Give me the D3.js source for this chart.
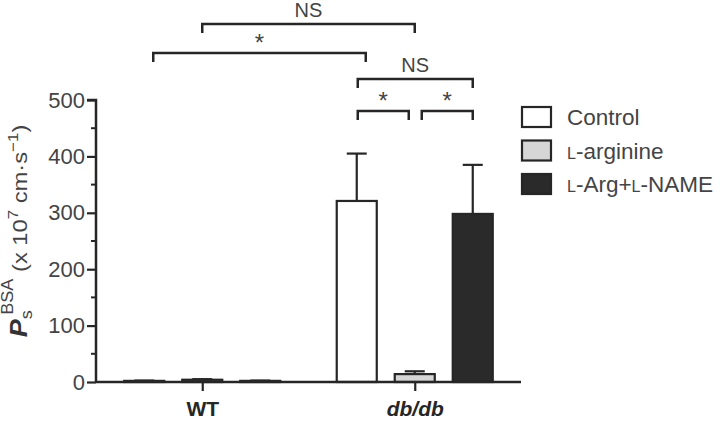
<!DOCTYPE html>
<html><head><meta charset="utf-8">
<script src="https://cdn.jsdelivr.net/npm/d3@7"></script>
<style>body{margin:0;background:#fff}svg{display:block;font-family:Arial,"Liberation Sans",Helvetica,sans-serif}</style>
</head><body>
<script>
const groups = ["WT", "db/db"];
const series = ["Control", "L-arginine", "L-Arg+L-NAME"];
const wtValues = [2, 4, 2];
const wtErrors = [0.5, 1, 0.5];
const dbValues = [321, 14, 298];
const dbErrors = [84, 5, 87];
const yTicks = [0, 100, 200, 300, 400, 500];
const yMinorTicks = [50, 150, 250, 350, 450];
const brackets = [
  {from:[0,1], to:[1,1], label:"NS", level:0, dx1:0, dx2:0},
  {from:[0,0], to:[1,0], label:"*", level:1, dx1:9, dx2:9},
  {from:[1,0], to:[1,2], label:"NS", level:2, dx1:1, dx2:0},
  {from:[1,0], to:[1,1], label:"*", level:3, dx1:1, dx2:-6},
  {from:[1,1], to:[1,2], label:"*", level:3, dx1:7, dx2:0}
];
const bracketY = [24, 53, 79, 111];

const W = 720, H = 421;
const svg = d3.select("body").append("svg").attr("width", W).attr("height", H);
const x0 = 96, x1 = 521, yTop = 100, yBot = 382;
const xg = d3.scalePoint().domain(groups).range([x0, x1]).padding(0.5);
const xs = d3.scaleBand().domain(series).range([-87, 87]).paddingInner(0.31).paddingOuter(0.155);
const y = d3.scaleLinear().domain([0, 500]).range([yBot, yTop]);
const fills = ["#ffffff", "#d6d6d6", "#2a2a2a"];
const ink = "#262626";

const data = [];
groups.forEach((g, gi) => series.forEach((s, si) => {
  const v = gi === 0 ? wtValues[si] : dbValues[si];
  const e = gi === 0 ? wtErrors[si] : dbErrors[si];
  data.push({g, s, si, v, e});
}));
const cx = d => xg(d.g) + xs(d.s) + xs.bandwidth() / 2;

// error bars
svg.append("g").selectAll("g").data(data).join("g").each(function(d){
  const g = d3.select(this);
  g.append("line").attr("x1", cx(d)).attr("x2", cx(d)).attr("y1", y(d.v)).attr("y2", y(d.v + d.e)).attr("stroke", ink).attr("stroke-width", 2.2);
  g.append("line").attr("x1", cx(d) - 10).attr("x2", cx(d) + 10).attr("y1", y(d.v + d.e)).attr("y2", y(d.v + d.e)).attr("stroke", ink).attr("stroke-width", 2.2);
});
// bars
svg.append("g").selectAll("rect").data(data).join("rect")
  .attr("x", d => xg(d.g) + xs(d.s)).attr("width", xs.bandwidth())
  .attr("y", d => y(d.v)).attr("height", d => y(0) - y(d.v))
  .attr("fill", d => fills[d.si]).attr("stroke", ink).attr("stroke-width", 2.2);

// y axis
const ya = svg.append("g").attr("transform", `translate(${x0},0)`)
  .call(d3.axisLeft(y).tickValues(yTicks).tickSize(9).tickPadding(2).tickFormat(d3.format("d")));
ya.select(".domain").attr("stroke", ink).attr("stroke-width", 2.5).attr("d", `M-9,${yTop}H0V${yBot}`);
ya.selectAll(".tick line").attr("stroke", ink).attr("stroke-width", 2.2);
ya.selectAll(".tick text").attr("font-size", 22).attr("fill", "#444").attr("font-family", "Arial, 'Liberation Sans', sans-serif");
svg.append("g").selectAll("line").data(yMinorTicks).join("line")
  .attr("x1", x0 - 5).attr("x2", x0).attr("y1", d => y(d)).attr("y2", d => y(d)).attr("stroke", ink).attr("stroke-width", 2);

// x axis
const xa = svg.append("g").attr("transform", `translate(0,${yBot})`)
  .call(d3.axisBottom(xg).tickSize(9).tickPadding(10));
xa.select(".domain").attr("stroke", ink).attr("stroke-width", 2.5).attr("d", `M${x0},0H${x1}`);
xa.selectAll(".tick line").attr("stroke", ink).attr("stroke-width", 2.2);
xa.selectAll(".tick text").attr("font-size", 21).attr("font-weight", "bold").attr("fill", ink)
  .attr("font-style", d => d === "db/db" ? "italic" : "normal").attr("dy", "0.7em");

// brackets
const bx = (p, dx) => xg(groups[p[0]]) + xs(series[p[1]]) + xs.bandwidth() / 2 + dx;
const bg = svg.append("g");
brackets.forEach(b => {
  const xa1 = bx(b.from, b.dx1), xa2 = bx(b.to, b.dx2), yy = bracketY[b.level];
  bg.append("path").attr("d", `M${xa1},${yy + 9}V${yy}H${xa2}V${yy + 9}`).attr("fill", "none").attr("stroke", ink).attr("stroke-width", 2.5);
  bg.append("text").attr("x", (xa1 + xa2) / 2).attr("y", b.label === "*" ? yy - 2 : yy - 7)
    .attr("text-anchor", "middle").attr("font-size", b.label === "*" ? 24 : 20).attr("fill", "#444")
    .text(b.label);
});

// legend
const lg = svg.append("g");
const legendLabels = [
  [["", "Control"]],
  [["L", ""], ["", "-arginine"]],
  [["L", ""], ["", "-Arg+"], ["L", ""], ["", "-NAME"]]
];
series.forEach((s, i) => {
  const top = 107 + i * 33.5;
  lg.append("rect").attr("x", 522).attr("y", top).attr("width", 29).attr("height", 20)
    .attr("fill", fills[i]).attr("stroke", ink).attr("stroke-width", 2.2);
  const t = lg.append("text").attr("x", 567).attr("y", top + 18).attr("font-size", 22.5).attr("fill", "#444");
  legendLabels[i].forEach(([sc, txt]) => {
    if (sc) t.append("tspan").attr("font-size", 16).text(sc);
    else t.append("tspan").text(txt);
  });
});

// y label
const yl = svg.append("text").attr("transform", "translate(27,231) rotate(-90) scale(1.13,1)")
  .attr("text-anchor", "middle").attr("font-size", 21).attr("fill", "#444");
yl.append("tspan").attr("font-weight", "bold").attr("font-style", "italic").attr("fill", "#333").attr("font-size", 24).text("P");
yl.append("tspan").attr("font-size", 16).attr("dy", 5).text("s");
yl.append("tspan").attr("font-size", 16).attr("dy", -19).attr("dx", -4).text("BSA");
yl.append("tspan").attr("dy", 14).text(" (x 10");
yl.append("tspan").attr("font-size", 15).attr("dy", -9).text("7");
yl.append("tspan").attr("dy", 9).text(" cm·s");
yl.append("tspan").attr("font-size", 15).attr("dy", -9).text("−1");
yl.append("tspan").attr("dy", 9).text(")");
</script>
</body></html>
